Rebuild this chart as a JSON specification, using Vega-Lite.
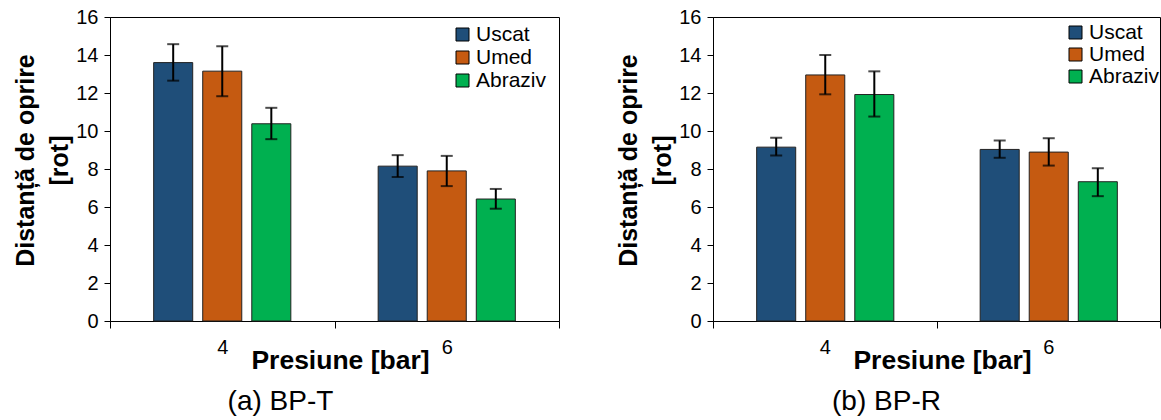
{
  "$schema": "https://vega.github.io/schema/vega-lite/v6.json",
  "padding": {"left": 13, "top": 6, "right": 0, "bottom": 0},
  "bounds": "flush",
  "spacing": 154,
  "background": "white",
  "config": {
    "font": "Liberation Sans",
    "view": {"stroke": "black", "strokeWidth": 1},
    "axis": {"domainColor": "black", "tickColor": "black", "labelColor": "black", "titleColor": "black", "grid": false}
  },
  "data": {"values": [
    {"panel": "a", "p": "4", "cond": "Uscat", "v": 13.6, "lo": 12.65, "hi": 14.57},
    {"panel": "a", "p": "4", "cond": "Umed", "v": 13.15, "lo": 11.83, "hi": 14.46},
    {"panel": "a", "p": "4", "cond": "Abraziv", "v": 10.38, "lo": 9.57, "hi": 11.22},
    {"panel": "a", "p": "6", "cond": "Uscat", "v": 8.15, "lo": 7.58, "hi": 8.73},
    {"panel": "a", "p": "6", "cond": "Umed", "v": 7.9, "lo": 7.1, "hi": 8.69},
    {"panel": "a", "p": "6", "cond": "Abraziv", "v": 6.42, "lo": 5.91, "hi": 6.95},
    {"panel": "b", "p": "4", "cond": "Uscat", "v": 9.15, "lo": 8.71, "hi": 9.64},
    {"panel": "b", "p": "4", "cond": "Umed", "v": 12.95, "lo": 11.93, "hi": 14.0},
    {"panel": "b", "p": "4", "cond": "Abraziv", "v": 11.92, "lo": 10.76, "hi": 13.14},
    {"panel": "b", "p": "6", "cond": "Uscat", "v": 9.03, "lo": 8.59, "hi": 9.5},
    {"panel": "b", "p": "6", "cond": "Umed", "v": 8.89, "lo": 8.18, "hi": 9.62},
    {"panel": "b", "p": "6", "cond": "Abraziv", "v": 7.33, "lo": 6.57, "hi": 8.04}
  ]},
  "resolve": {"legend": {"color": "independent"}},
  "hconcat": [
    {
      "width": 449,
      "height": 304,
      "title": {"text": "(a) BP-T", "orient": "bottom", "anchor": "middle", "frame": "group", "dx": -54, "offset": 14, "fontSize": 28, "fontWeight": "normal", "color": "black"},
      "transform": [{"filter": "datum.panel === 'a'"}],
      "resolve": {"axis": {"y": "independent"}},
      "encoding": {
        "x": {"field": "p", "type": "nominal", "scale": {"paddingInner": 0, "paddingOuter": 0},
          "axis": {"title": "Presiune [bar]", "titleFontSize": 26.5, "titleFontWeight": "bold", "titleX": 230, "titleY": 39, "titleBaseline": "middle", "titleAlign": "center", "labelAngle": 0, "labelFontSize": 20, "labelPadding": 9, "tickBand": "extent", "tickSize": 7}},
        "xOffset": {"field": "cond", "type": "nominal", "sort": ["Uscat", "Umed", "Abraziv"], "scale": {"paddingInner": 0.204, "paddingOuter": 0.89}}
      },
      "layer": [
        {
          "mark": {"type": "bar", "stroke": "#222222", "strokeWidth": 1},
          "encoding": {
            "y": {"field": "v", "type": "quantitative", "scale": {"domain": [0, 16]},
              "axis": {"title": ["Distanță de oprire", "[rot]"], "titleFontSize": 25, "titleFontWeight": "bold", "titleLineHeight": 34, "titlePadding": 3, "titleY": 143, "labelFontSize": 20, "tickSize": 6, "labelPadding": 6, "values": [0, 2, 4, 6, 8, 10, 12, 14, 16]}},
            "color": {"field": "cond", "type": "nominal",
              "scale": {"domain": ["Uscat", "Umed", "Abraziv"], "range": ["#1F4E79", "#C55A11", "#00B050"]},
              "legend": {"orient": "none", "legendX": 342, "legendY": 7, "title": null, "symbolType": "square", "symbolSize": 169, "symbolStrokeColor": "black", "symbolStrokeWidth": 1, "labelFontSize": 21, "labelColor": "black", "rowPadding": 1, "labelOffset": 3}}
          }
        },
        {
          "mark": {"type": "rule", "strokeWidth": 2, "color": "black"},
          "encoding": {"y": {"field": "lo", "type": "quantitative", "axis": null}, "y2": {"field": "hi"}}
        },
        {
          "mark": {"type": "tick", "thickness": 2, "size": 12, "color": "black"},
          "encoding": {"y": {"field": "lo", "type": "quantitative", "axis": null}}
        },
        {
          "mark": {"type": "tick", "thickness": 2, "size": 12, "color": "black"},
          "encoding": {"y": {"field": "hi", "type": "quantitative", "axis": null}}
        }
      ]
    },
    {
      "width": 447,
      "height": 304,
      "title": {"text": "(b) BP-R", "orient": "bottom", "anchor": "middle", "frame": "group", "dx": -50, "offset": 14, "fontSize": 28, "fontWeight": "normal", "color": "black"},
      "transform": [{"filter": "datum.panel === 'b'"}],
      "resolve": {"axis": {"y": "independent"}},
      "encoding": {
        "x": {"field": "p", "type": "nominal", "scale": {"paddingInner": 0, "paddingOuter": 0},
          "axis": {"title": "Presiune [bar]", "titleFontSize": 26.5, "titleFontWeight": "bold", "titleX": 229, "titleY": 39, "titleBaseline": "middle", "titleAlign": "center", "labelAngle": 0, "labelFontSize": 20, "labelPadding": 9, "tickBand": "extent", "tickSize": 7}},
        "xOffset": {"field": "cond", "type": "nominal", "sort": ["Uscat", "Umed", "Abraziv"], "scale": {"paddingInner": 0.204, "paddingOuter": 0.89}}
      },
      "layer": [
        {
          "mark": {"type": "bar", "stroke": "#222222", "strokeWidth": 1},
          "encoding": {
            "y": {"field": "v", "type": "quantitative", "scale": {"domain": [0, 16]},
              "axis": {"title": ["Distanță de oprire", "[rot]"], "titleFontSize": 25, "titleFontWeight": "bold", "titleLineHeight": 34, "titlePadding": 3, "titleY": 143, "labelFontSize": 20, "tickSize": 6, "labelPadding": 6, "values": [0, 2, 4, 6, 8, 10, 12, 14, 16]}},
            "color": {"field": "cond", "type": "nominal",
              "scale": {"domain": ["Uscat", "Umed", "Abraziv"], "range": ["#1F4E79", "#C55A11", "#00B050"]},
              "legend": {"orient": "none", "legendX": 352, "legendY": 5, "title": null, "symbolType": "square", "symbolSize": 169, "symbolStrokeColor": "black", "symbolStrokeWidth": 1, "labelFontSize": 21, "labelColor": "black", "rowPadding": 0, "labelOffset": 3}}
          }
        },
        {
          "mark": {"type": "rule", "strokeWidth": 2, "color": "black"},
          "encoding": {"y": {"field": "lo", "type": "quantitative", "axis": null}, "y2": {"field": "hi"}}
        },
        {
          "mark": {"type": "tick", "thickness": 2, "size": 12, "color": "black"},
          "encoding": {"y": {"field": "lo", "type": "quantitative", "axis": null}}
        },
        {
          "mark": {"type": "tick", "thickness": 2, "size": 12, "color": "black"},
          "encoding": {"y": {"field": "hi", "type": "quantitative", "axis": null}}
        }
      ]
    }
  ]
}
